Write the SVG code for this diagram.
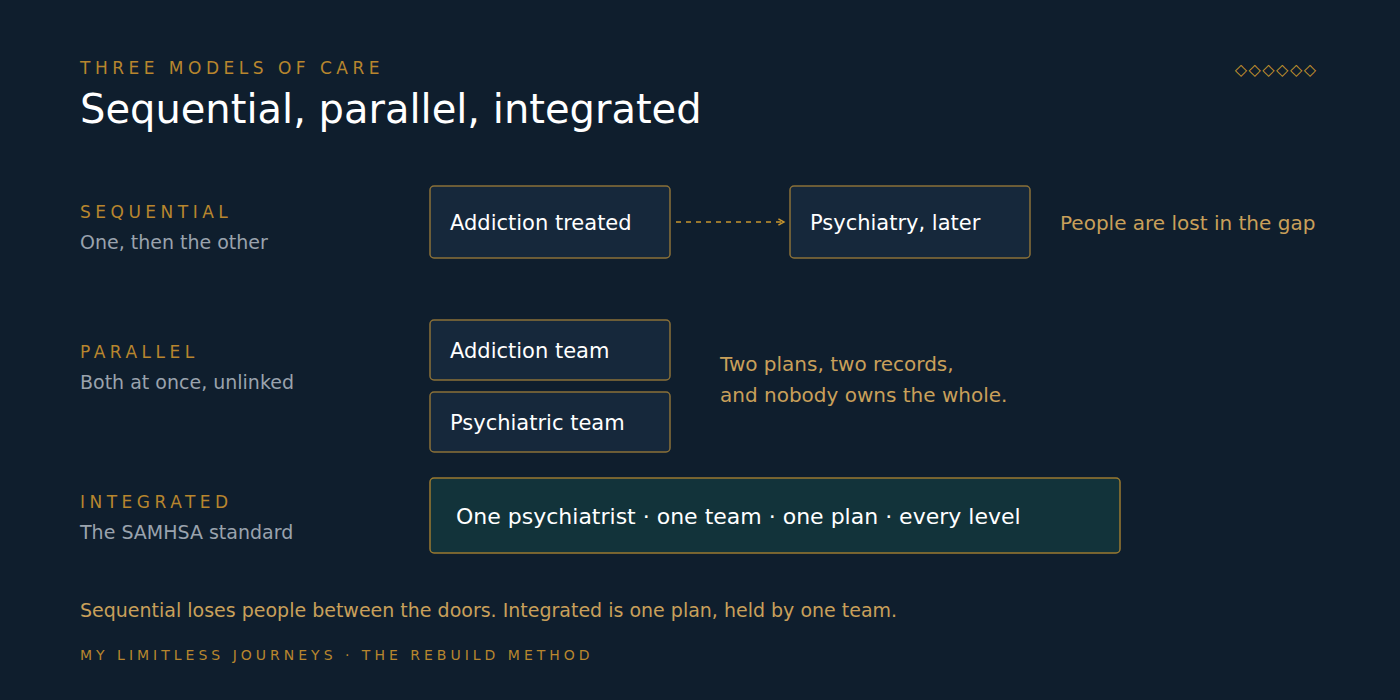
<svg xmlns="http://www.w3.org/2000/svg" width="1400" height="700" viewBox="0 0 1400 700">
<defs>
<style>
text{font-family:"DejaVu Sans","Noto Sans",sans-serif}
.eye{fill:#b8862e;font-size:17px;letter-spacing:4.5px}
.sub{fill:#9aa3ad;font-size:19px}
.box{fill:#16283b;stroke:#8a7038;stroke-width:1.5}
.lbl{fill:#ffffff;font-size:21px}
.note{fill:#c9a05a;font-size:20px}
</style>
<marker id="ah" viewBox="0 0 10 10" refX="8" refY="5" markerWidth="8" markerHeight="8" orient="auto" markerUnits="userSpaceOnUse">
<path d="M1,1 L8,5 L1,9" fill="none" stroke="#c9962e" stroke-width="1.8"/>
</marker>
</defs>
<rect width="1400" height="700" fill="#0f1e2d"/>
<text x="80" y="74" class="eye">THREE MODELS OF CARE</text>
<text x="80" y="123" fill="#ffffff" font-size="40">Sequential, parallel, integrated</text>
<text x="1317.5" y="75" text-anchor="end" fill="#c9962e" font-size="16" letter-spacing="1.5">◇◇◇◇◇◇</text>

<g id="sequential-label">
<text x="80" y="218" class="eye">SEQUENTIAL</text>
<text x="80" y="249" class="sub">One, then the other</text>
</g>
<g id="addiction-treated">
<rect x="430" y="186" width="240" height="72" rx="4" class="box"/>
<text x="450" y="230" class="lbl">Addiction treated</text>
</g>
<g id="psychiatry-later">
<rect x="790" y="186" width="240" height="72" rx="4" class="box"/>
<text x="810" y="230" class="lbl">Psychiatry, later</text>
</g>
<text x="1060" y="230" class="note">People are lost in the gap</text>

<g id="parallel-label">
<text x="80" y="358" class="eye">PARALLEL</text>
<text x="80" y="389" class="sub">Both at once, unlinked</text>
</g>
<g id="addiction-team">
<rect x="430" y="320" width="240" height="60" rx="4" class="box"/>
<text x="450" y="358" class="lbl">Addiction team</text>
</g>
<g id="psychiatric-team">
<rect x="430" y="392" width="240" height="60" rx="4" class="box"/>
<text x="450" y="430" class="lbl">Psychiatric team</text>
</g>
<text x="720" y="371" class="note">Two plans, two records,</text>
<text x="720" y="402" class="note">and nobody owns the whole.</text>

<g id="integrated-label">
<text x="80" y="508" class="eye">INTEGRATED</text>
<text x="80" y="539" class="sub">The SAMHSA standard</text>
</g>
<g id="integrated">
<rect x="430" y="478" width="690" height="75" rx="4" fill="#12333a" stroke="#9a7a30" stroke-width="1.5"/>
<text x="456" y="524" fill="#ffffff" font-size="22">One psychiatrist · one team · one plan · every level</text>
</g>

<g id="connectors">
<line x1="676" y1="222" x2="784" y2="222" stroke="#c9962e" stroke-width="1.5" stroke-dasharray="5 5" marker-end="url(#ah)"/>
</g>

<text x="80" y="617" fill="#c9a05a" font-size="19">Sequential loses people between the doors. Integrated is one plan, held by one team.</text>
<text x="80" y="660" fill="#b8862e" font-size="14" letter-spacing="4">MY LIMITLESS JOURNEYS · THE REBUILD METHOD</text>
</svg>
